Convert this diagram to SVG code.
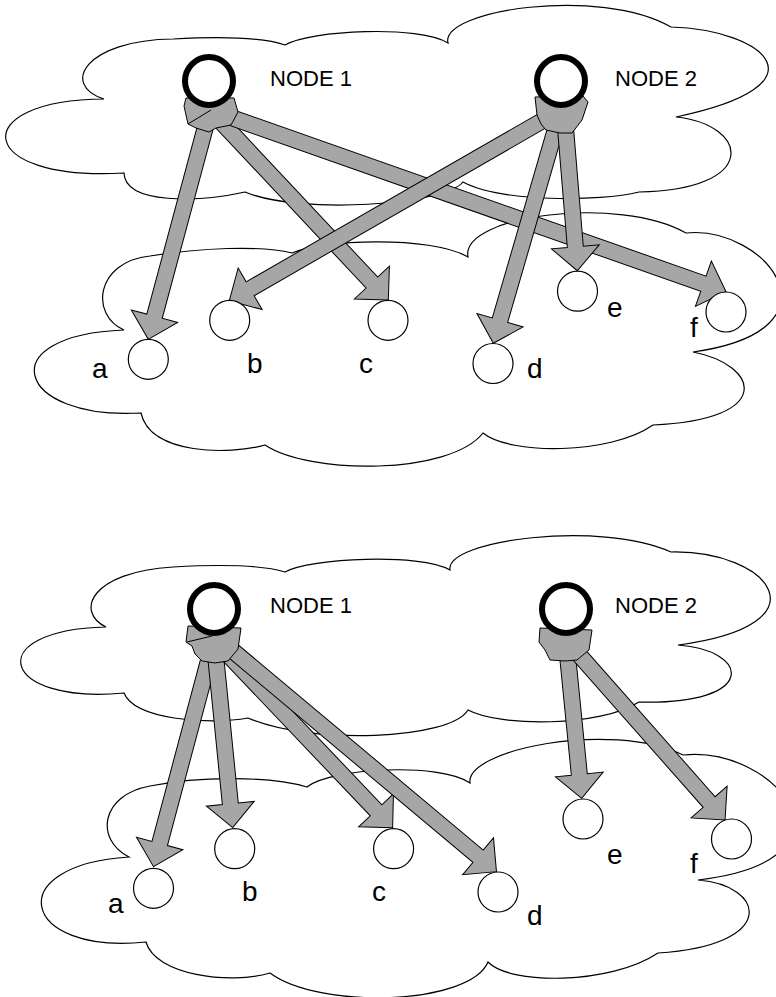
<svg xmlns="http://www.w3.org/2000/svg" width="776" height="997" viewBox="0 0 776 997">
  <style>
    .cloud { fill: none; stroke: #000; stroke-width: 1.2; }
    .arrow { fill: #a6a6a6; stroke: #000; stroke-width: 1; stroke-linejoin: miter; }
    .blob { fill: #a6a6a6; stroke: #000; stroke-width: 1; }
    .hub { fill: #fff; stroke: #000; stroke-width: 6; }
    .leaf { fill: #fff; stroke: #000; stroke-width: 1.2; }
    .hublabel { font-family: "Liberation Sans", Arial, sans-serif; font-size: 22px; fill: #000; }
    .leaflabel { font-family: "Liberation Sans", Arial, sans-serif; font-size: 28px; fill: #000; }
  </style>
  <rect width="776" height="997" fill="#fff"/>

  <!-- clouds -->
  <g id="clouds">
    <path class="cloud" d="M104,99 C60,85 85,40 173,39 C230,36 265,38 285,45 C310,30 420,25 448,43 C440,10 600,-14 671,27 C765,30 830,85 676,117 C750,125 760,190 639,192 C600,202 500,202 463,182 C445,205 300,215 245,192 C200,202 125,205 124,173 C-25,182 -35,100 104,99 Z"/>
    <path class="cloud" d="M124,330 C90,315 95,262 150,256 C200,248 260,245 292,253 C320,240 430,235 468,257 C460,215 620,195 686,233 C765,225 850,330 693,352 C760,365 775,420 653,425 C610,455 510,455 483,433 C450,475 310,475 265,445 C230,455 150,455 141,413 C15,420 -10,335 124,330 Z"/>
    <path class="cloud" d="M106,627 C75,612 90,572 173,567 C225,564 265,566 285,572 C310,558 420,553 450,570 C445,540 600,520 671,552 C770,550 830,625 678,645 C750,650 760,705 639,702 C600,727 500,727 468,710 C450,740 310,745 248,718 C210,725 135,720 124,693 C0,705 -20,630 106,627 Z"/>
    <path class="cloud" d="M129,857 C95,840 100,795 150,786 C200,776 270,776 307,787 C330,768 440,762 470,783 C465,750 610,720 683,755 C775,745 870,860 698,880 C765,885 780,945 658,953 C610,985 510,985 488,962 C470,1005 320,1010 270,973 C230,985 155,975 146,942 C20,955 0,865 129,857 Z"/>
  </g>

  <!-- connectors -->
  <g id="connectors">
    <!-- upper figure: NODE 1 -->
    <polygon class="arrow" transform="translate(210,110) rotate(105.06)" points="0,-8 213.5,-8 213.5,-24 237.5,0 213.5,24 213.5,8 0,8"/>
    <polygon class="arrow" transform="translate(210,110) rotate(46.82)" points="0,-8 236.6,-8 236.6,-24 260.6,0 236.6,24 236.6,8 0,8"/>
    <polygon class="arrow" transform="translate(210,110) rotate(19.40)" points="0,-8 523.1,-8 523.1,-24 547.1,0 523.1,24 523.1,8 0,8"/>
    <!-- upper figure: NODE 2 -->
    <polygon class="arrow" transform="translate(561,110) rotate(150.1)" points="0,-8 358.6,-8 358.6,-24 382.6,0 358.6,24 358.6,8 0,8"/>
    <polygon class="arrow" transform="translate(561,110) rotate(106.18)" points="0,-8 218.9,-8 218.9,-24 242.9,0 218.9,24 218.9,8 0,8"/>
    <polygon class="arrow" transform="translate(564,110) rotate(85.27)" points="0,-8 137.3,-8 137.3,-24 161.3,0 137.3,24 137.3,8 0,8"/>
    <!-- lower figure: NODE 1 -->
    <polygon class="arrow" transform="translate(214,640) rotate(104.94)" points="0,-8 210.6,-8 210.6,-24 234.6,0 210.6,24 210.6,8 0,8"/>
    <polygon class="arrow" transform="translate(214,640) rotate(84.31)" points="0,-8 164.6,-8 164.6,-24 188.6,0 164.6,24 164.6,8 0,8"/>
    <polygon class="arrow" transform="translate(214,640) rotate(46.42)" points="0,-8 235.1,-8 235.1,-24 259.1,0 235.1,24 235.1,8 0,8"/>
    <polygon class="arrow" transform="translate(220,640) rotate(39.96)" points="0,-8 336.7,-8 336.7,-24 360.7,0 336.7,24 336.7,8 0,8"/>
    <!-- lower figure: NODE 2 -->
    <polygon class="arrow" transform="translate(566,640) rotate(84.34)" points="0,-8 135.1,-8 135.1,-24 159.1,0 135.1,24 135.1,8 0,8"/>
    <polygon class="arrow" transform="translate(566,640) rotate(48.54)" points="0,-8 216.2,-8 216.2,-24 240.2,0 216.2,24 216.2,8 0,8"/>
    <!-- arrow roots gathered under each hub -->
    <polygon class="blob" points="184,106 188,124 196,128 209,132 216,128 231,125 238,112 234,98 186,98"/>
    <polyline class="blob" fill="none" points="188,124 211,110"/>
    <polygon class="blob" points="535,97 537,115 541,124 546,130 560,133 572,133 582,120 588,102 583,96"/>
    <polygon class="blob" points="188,626 186,642 192,646 195,654 202,661 215,663 228,661 238,649 241,628"/>
    <polyline class="blob" fill="none" points="187,642 212,636"/>
    <polygon class="blob" points="540,628 539,642 545,650 550,660 565,661 577,660 589,650 592,630"/>
  </g>

  <!-- upper figure nodes -->
  <g id="u-node1"><circle class="hub" cx="209" cy="81" r="24"/><text class="hublabel" x="270" y="86">NODE 1</text></g>
  <g id="u-node2"><circle class="hub" cx="561" cy="81" r="24"/><text class="hublabel" x="615" y="86">NODE 2</text></g>
  <g id="u-a"><circle class="leaf" cx="148.3" cy="359.3" r="20"/><text class="leaflabel" x="92" y="378">a</text></g>
  <g id="u-b"><circle class="leaf" cx="229.7" cy="320.3" r="20"/><text class="leaflabel" x="247" y="373">b</text></g>
  <g id="u-c"><circle class="leaf" cx="388" cy="320.3" r="20"/><text class="leaflabel" x="359" y="373">c</text></g>
  <g id="u-d"><circle class="leaf" cx="493" cy="363.5" r="20"/><text class="leaflabel" x="527" y="378">d</text></g>
  <g id="u-e"><circle class="leaf" cx="577.5" cy="291.2" r="20"/><text class="leaflabel" x="607" y="317">e</text></g>
  <g id="u-f"><circle class="leaf" cx="726" cy="312" r="20"/><text class="leaflabel" x="690" y="337">f</text></g>

  <!-- lower figure nodes -->
  <g id="l-node1"><circle class="hub" cx="214" cy="609" r="24"/><text class="hublabel" x="270" y="613">NODE 1</text></g>
  <g id="l-node2"><circle class="hub" cx="566" cy="609" r="24"/><text class="hublabel" x="615" y="613">NODE 2</text></g>
  <g id="l-a"><circle class="leaf" cx="153.5" cy="888.3" r="20"/><text class="leaflabel" x="108" y="913">a</text></g>
  <g id="l-b"><circle class="leaf" cx="234.7" cy="848.7" r="20"/><text class="leaflabel" x="242" y="901">b</text></g>
  <g id="l-c"><circle class="leaf" cx="393.6" cy="848.7" r="20"/><text class="leaflabel" x="372" y="901">c</text></g>
  <g id="l-d"><circle class="leaf" cx="498" cy="892" r="20"/><text class="leaflabel" x="527" y="925">d</text></g>
  <g id="l-e"><circle class="leaf" cx="583" cy="819" r="20"/><text class="leaflabel" x="607" y="864">e</text></g>
  <g id="l-f"><circle class="leaf" cx="731.5" cy="839" r="20"/><text class="leaflabel" x="690" y="873">f</text></g>
</svg>
